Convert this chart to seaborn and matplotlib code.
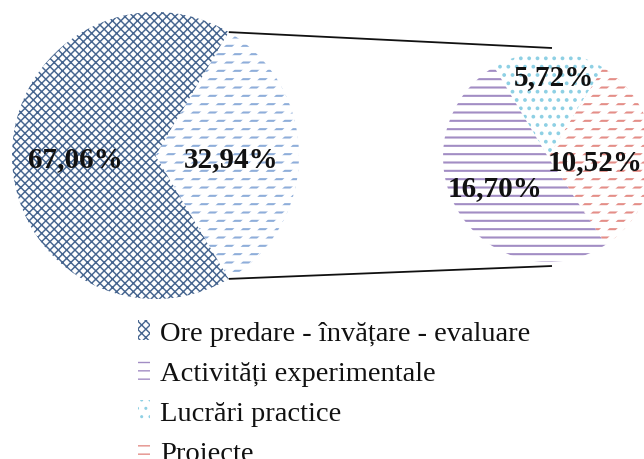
import numpy as np
import matplotlib
matplotlib.use("Agg")
import matplotlib.pyplot as plt
from matplotlib.patches import Patch
import seaborn as sns

# ---- data ----
main_labels = ["Ore predare - învățare - evaluare", "Alte activități"]
main_values = [67.06, 32.94]
sub_labels = ["Activități experimentale", "Lucrări practice", "Proiecte"]
sub_values = [16.70, 5.72, 10.52]
legend_labels = ["Ore predare - învățare - evaluare", "Activități experimentale",
                 "Lucrări practice", "Proiecte"]

# ---- style ----
sns.set_theme(style="white")
plt.rcParams["font.family"] = ["Liberation Serif", "DejaVu Serif"]

C_NAVY = "#46658F"
C_LBLUE = "#8FAEDA"
C_PURPLE = "#A28DC4"
C_DOTS = "#8ED0E4"
C_RED = "#E48E88"

W, H = 644, 460
fig = plt.figure(figsize=(W / 100, H / 100), dpi=100)
ax = fig.add_axes([0, 0, 1, 1])

def hlw(p, lw):
    if hasattr(p, "set_hatch_linewidth"):
        p.set_hatch_linewidth(lw)

# pie geometry
c1 = (155.5, H - 156.5)
r1 = 143.5
c2 = (548.0, H - 158.0)
r2 = 105.0

# main pie: "others" slice centered on 0 deg
half = 360 * main_values[1] / sum(main_values) / 2
order_main = [main_values[1], main_values[0]]
w1, _ = ax.pie(order_main, startangle=-half, counterclock=True, radius=r1,
               center=c1, colors=["white", "white"], frame=True,
               wedgeprops=dict(linewidth=0))
w1[0].set_edgecolor(C_LBLUE); w1[0].set_hatch("--"); hlw(w1[0], 1.5)
w1[1].set_edgecolor(C_NAVY); w1[1].set_hatch("xxxx"); hlw(w1[1], 1.05)
for w in w1:
    w.set_linewidth(0)

# sub pie: counterclockwise red, dots, purple
sub_order = [sub_values[2], sub_values[1], sub_values[0]]
sub_cols = [C_RED, C_DOTS, C_PURPLE]
sub_hatch = ["--", "..", "--"]
start2 = -56.6
w2, _ = ax.pie(sub_order, startangle=start2, counterclock=True, radius=r2,
               center=c2, colors=["white"] * 3, frame=True,
               wedgeprops=dict(linewidth=0))
for w, col, h in zip(w2, sub_cols, sub_hatch):
    w.set_edgecolor(col); w.set_hatch(h); w.set_linewidth(0); hlw(w, 1.5)

# white diagonal overlay turning lines into staggered dashes
with plt.rc_context({"hatch.linewidth": 4.3}):
    ov1, _ = ax.pie(order_main, startangle=-half, counterclock=True, radius=r1,
                    center=c1, colors=["none", "none"], frame=True,
                    wedgeprops=dict(linewidth=0))
    ov2, _ = ax.pie(sub_order, startangle=start2, counterclock=True, radius=r2,
                    center=c2, colors=["none"] * 3, frame=True,
                    wedgeprops=dict(linewidth=0))
for w in [ov1[0], ov2[0]]:
    w.set_edgecolor("white"); w.set_hatch("//"); w.set_linewidth(0); hlw(w, 4.3)
for w in [ov1[1], ov2[1], ov2[2]]:
    w.set_visible(False)

ax.set_xlim(0, W)
ax.set_ylim(0, H)
ax.set_aspect("equal")
ax.axis("off")

# connector lines
a = np.deg2rad(half)
for s in (1, -1):
    x0 = c1[0] + r1 * np.cos(a)
    y0 = c1[1] + s * r1 * np.sin(a)
    x1 = c2[0] + 4
    y1 = c2[1] + s * (r2 + 4)
    ax.plot([x0, x1], [y0, y1], color="#111111", lw=1.3, solid_capstyle="butt", zorder=5)

# value labels
lab_font = dict(fontsize=21, fontweight="bold", ha="center", va="center",
                color="#111111", family=["Liberation Serif", "DejaVu Serif"], zorder=6)
fmt = lambda v: f"{v:.2f}%".replace(".", ",")
ax.text(c1[0] - 0.56 * r1, c1[1] - 0.02 * r1, fmt(main_values[0]), **lab_font)
ax.text(c1[0] + 0.53 * r1, c1[1] - 0.02 * r1, fmt(main_values[1]), **lab_font)
ax.text(c2[0] + 0.06 * r2, c2[1] + 0.77 * r2, fmt(sub_values[1]), **lab_font)
ax.text(c2[0] + 0.45 * r2, c2[1] - 0.04 * r2, fmt(sub_values[2]), **lab_font)
ax.text(c2[0] - 0.50 * r2, c2[1] - 0.29 * r2, fmt(sub_values[0]), **lab_font)

# legend
handles = [
    Patch(facecolor="white", edgecolor=C_NAVY, hatch="xxxx", linewidth=0),
    Patch(facecolor="white", edgecolor=C_PURPLE, hatch="--", linewidth=0),
    Patch(facecolor="white", edgecolor=C_DOTS, hatch="..", linewidth=0),
    Patch(facecolor="white", edgecolor=C_RED, hatch="--", linewidth=0),
]
leg = fig.legend(handles, legend_labels, loc="upper left",
                 bbox_to_anchor=(138 / W, 1 - 321 / H), frameon=False,
                 prop=dict(family="Liberation Serif", size=20.5),
                 handlelength=0.42, handleheight=0.7, handletextpad=0.35,
                 labelspacing=0.5, borderpad=0, borderaxespad=0)
for t in leg.get_texts():
    t.set_color("#111111")

fig.savefig("out.png", dpi=100)
